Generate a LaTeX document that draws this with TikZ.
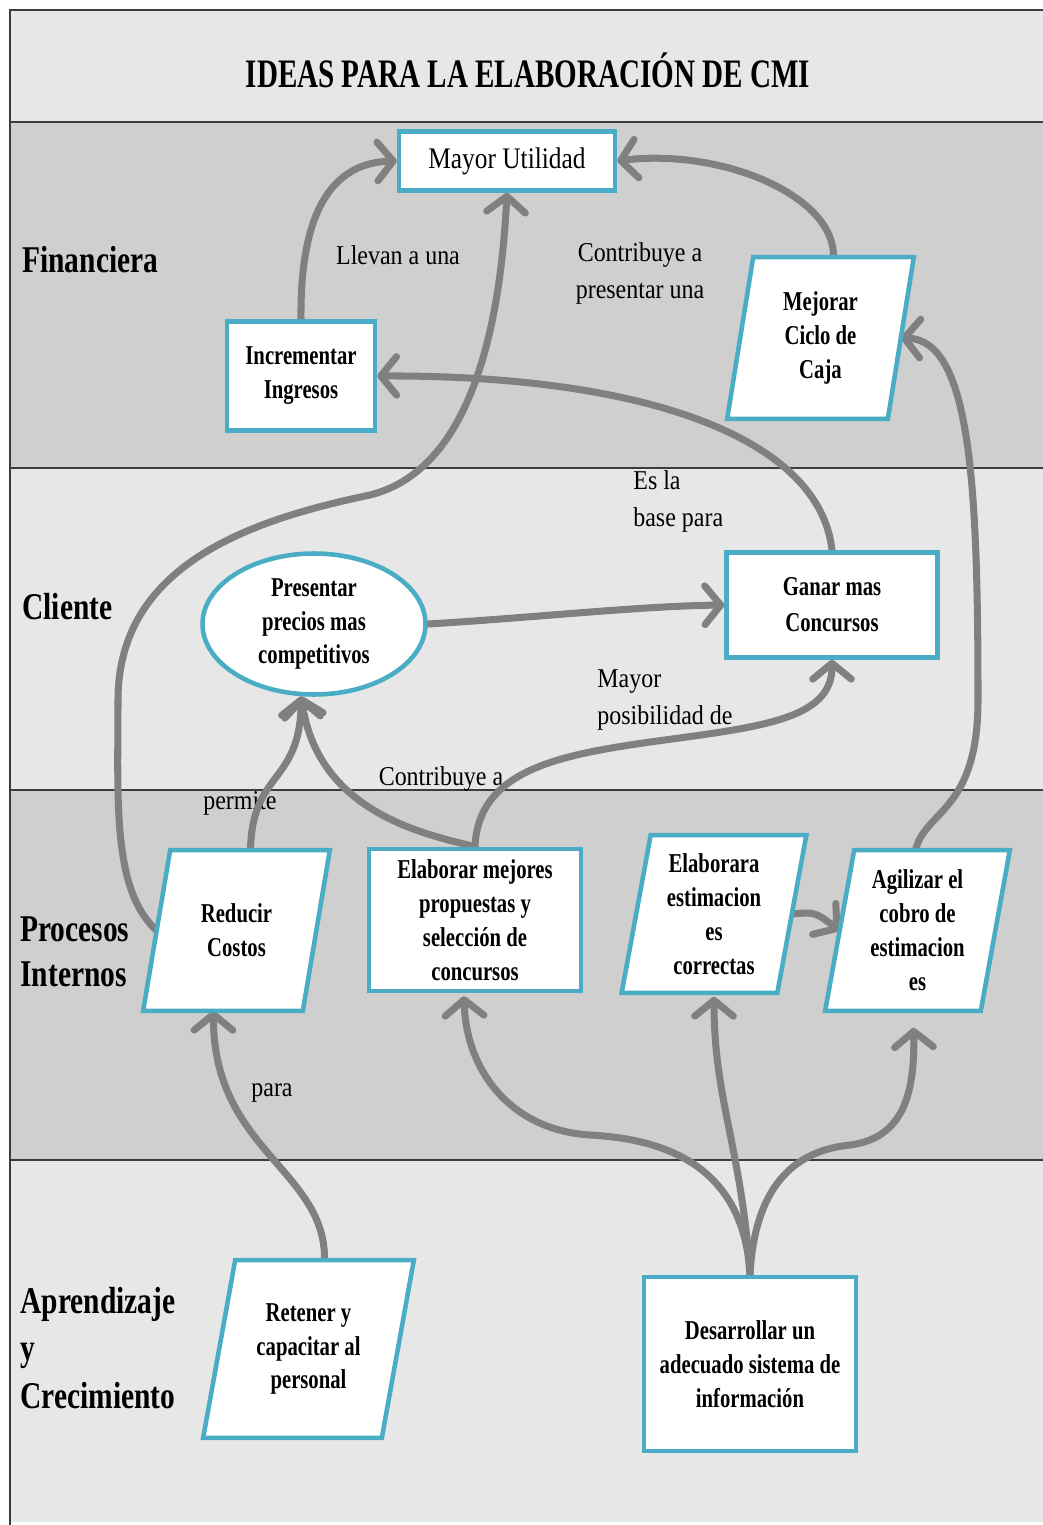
\documentclass[tikz,border=0pt]{standalone}
\usepackage{fontspec}
\setmainfont{Liberation Serif}
\newfontfamily\titlefont[FakeStretch=0.72]{Liberation Serif}
\newfontfamily\nodefont[FakeStretch=0.76]{Liberation Serif}
\newfontfamily\mufont[FakeStretch=0.85]{Liberation Serif}
\newfontfamily\lanefont[FakeStretch=0.78]{Liberation Serif}
\newfontfamily\edgefont[FakeStretch=0.88]{Liberation Serif}
\usetikzlibrary{arrows.meta,calc,shapes.geometric}
\pgfdeclarelayer{bg}\pgfdeclarelayer{lbl}\pgfdeclarelayer{arr}\pgfdeclarelayer{shp}
\pgfsetlayers{bg,lbl,arr,shp,main}
\definecolor{bandD}{HTML}{CFCFCF}
\definecolor{bandL}{HTML}{E7E7E7}
\definecolor{bdr}{HTML}{4BACC6}
\definecolor{arrg}{HTML}{808080}
\definecolor{frm}{HTML}{3C3C3C}
\newcommand\slantbox[2]{%
  \begin{pgfonlayer}{shp}
  \draw[pline] ($(#1.north west)+(#2,0)$) -- ($(#1.north east)+(#2,0)$) -- ($(#1.south east)+(-#2,0)$) -- ($(#1.south west)+(-#2,0)$) -- cycle;
  \end{pgfonlayer}}
\begin{document}
\begin{tikzpicture}[x=0.02cm,y=-0.02cm,
  box/.style={rectangle, draw=bdr, line width=2.6pt, fill=white, align=center, inner sep=2pt, font=\nodefont\bfseries\fontsize{15.5}{19.3}\selectfont},
  ptext/.style={rectangle, draw=none, align=center, inner sep=0pt, font=\nodefont\bfseries\fontsize{15.5}{19.3}\selectfont},
  pline/.style={draw=bdr, line width=2.6pt, fill=white, line join=miter},
  lane/.style={anchor=west, align=left, inner sep=0pt},
  elab/.style={align=center, inner sep=0pt, font=\edgefont\fontsize{15.5}{21}\selectfont},
  conn/.style={draw=arrg, line width=4pt, line cap=round, -{Straight Barb[length=9pt,width=22pt,round]}},
]
\useasboundingbox (0,0) rectangle (1043,1525);
\begin{pgfonlayer}{bg}
\fill[bandL] (10,10) rectangle (1043,122);
\fill[bandD] (10,122) rectangle (1043,468);
\fill[bandL] (10,468) rectangle (1043,790);
\fill[bandD] (10,790) rectangle (1043,1160);
\fill[bandL] (10,1160) rectangle (1043,1522);
\draw[frm, line width=1.6pt] (1043,10) -- (10,10) -- (10,1525);
\foreach \yy in {122,468,790,1160} \draw[frm,line width=1.6pt] (10,\yy) -- (1043,\yy);
\end{pgfonlayer}

% title
\node[font=\titlefont\bfseries\fontsize{23}{23}\selectfont] (title) at (528,70) {IDEAS PARA LA ELABORACIÓN DE CMI};

% lane labels
\node[lane, font=\lanefont\bfseries\fontsize{21.5}{26}\selectfont] (ln1) at (22,260) {Financiera};
\node[lane, font=\lanefont\bfseries\fontsize{21.5}{26}\selectfont] (ln2) at (22,607) {Cliente};
\node[lane, font=\lanefont\bfseries\fontsize{21.5}{25.6}\selectfont] (ln3) at (20,952) {Procesos\\Internos};
\node[lane, font=\lanefont\bfseries\fontsize{21.5}{26.8}\selectfont] (ln4) at (20,1348) {Aprendizaje\\y\\Crecimiento};

% rectangular / elliptic nodes
\node[box, font=\mufont\fontsize{17}{20}\selectfont, minimum width=4.32cm, minimum height=1.18cm] (MU) at (507,161) {Mayor Utilidad};
\node[box, minimum width=2.96cm, minimum height=2.18cm] (II) at (301,376) {Incrementar\\Ingresos};
\node[box, ellipse, inner sep=0pt, minimum width=4.46cm, minimum height=2.82cm] (E) at (314,624) {Presentar\\precios mas\\competitivos};
\node[box, font=\nodefont\bfseries\fontsize{15.5}{20.5}\selectfont, minimum width=4.22cm, minimum height=2.1cm] (GC) at (832,605) {Ganar mas\\Concursos};
\node[box, minimum width=4.24cm, minimum height=2.84cm] (EM) at (475,920) {Elaborar mejores\\propuestas y\\selección de\\concursos};
\node[box, minimum width=4.24cm, minimum height=3.48cm] (DS) at (750,1364) {Desarrollar un\\adecuado sistema de\\información};

% parallelogram nodes
\node[ptext, minimum width=3.2cm, minimum height=3.22cm] (MC) at (820.5,338) {Mejorar\\Ciclo de\\Caja};
\slantbox{MC}{13}
\node[ptext, minimum width=3.18cm, minimum height=3.2cm] (RC) at (236.5,930.5) {Reducir\\Costos};
\slantbox{RC}{13.5}
\node[ptext, minimum width=3.1cm, minimum height=3.14cm] (EE) at (714,914) {Elaborara\\estimacion\\es\\correctas};
\slantbox{EE}{14.5}
\node[ptext, minimum width=3.1cm, minimum height=3.2cm] (AC) at (917.5,930.5) {Agilizar el\\cobro de\\estimacion\\es};
\slantbox{AC}{14.5}
\node[ptext, minimum width=3.56cm, minimum height=3.54cm] (RP) at (308.5,1349) {Retener y\\capacitar al\\personal};
\slantbox{RP}{16}

% edge labels
\begin{pgfonlayer}{lbl}
\node[elab] (l1) at (398,255) {Llevan a una};
\node[elab] (l2) at (640,273) {Contribuye a\\presentar una};
\node[elab, anchor=west, align=left] (l3) at (633,501) {Es la\\base para};
\node[elab, anchor=west, align=left] (l4) at (597,700) {Mayor\\posibilidad de};
\node[elab] (l5) at (441,779) {Contribuye a};
\node[elab, anchor=west] (l6) at (203,803) {permite};
\node[elab] (l7) at (272,1093) {para};
\end{pgfonlayer}

% connectors
\begin{pgfonlayer}{arr}
\draw[conn] (II.north) .. controls (300,230) and (322,163) .. (MU.west);
\draw[conn] (RC.west) .. controls (112,890) and (118,800) .. (118,700) .. controls (118,565) and (250,520) .. (370,495) .. controls (470,470) and (500,330) .. (MU.south);
\draw[conn] ($(MC.north)+(13,0)$) .. controls (835,195) and (720,148) .. (MU.east);
\draw[conn] (GC.north) .. controls (820,440) and (650,375) .. (II.east);
\draw[conn] (E.east) .. controls (530,618) and (640,606) .. (GC.west);
\draw[conn] ($(AC.north)+(-2,0)$) .. controls (925,810) and (978,812) .. (978,700) .. controls (978,480) and (970,340) .. (MC.east);
\draw[conn] ($(RC.north)+(14,0)$) .. controls (252,770) and (300,785) .. (E.260);
\draw[conn] (EM.north) .. controls (430,835) and (318,815) .. (E.260);
\draw[conn] (EM.north) .. controls (478,770) and (560,755) .. (650,742) .. controls (760,727) and (832,720) .. (GC.south);
\draw[conn] (EE.east) .. controls (815,912) .. (AC.west);
\draw[conn] ($(RP.north)+(16,0)$) .. controls (326,1170) and (213,1150) .. ($(RC.south)+(-23,0)$);
\draw[conn] (DS.north) .. controls (745,1185) and (690,1140) .. (590,1135) .. controls (510,1130) and (466,1070) .. ($(EM.south)+(-11,3)$);
\draw[conn] (DS.north) .. controls (742,1150) and (714,1100) .. ($(EE.south)+(0,4)$);
\draw[conn] (DS.north) .. controls (755,1180) and (800,1150) .. (850,1145) .. controls (905,1138) and (915,1090) .. ($(AC.south)+(-4,17)$);
\end{pgfonlayer}
\end{tikzpicture}
\end{document}
